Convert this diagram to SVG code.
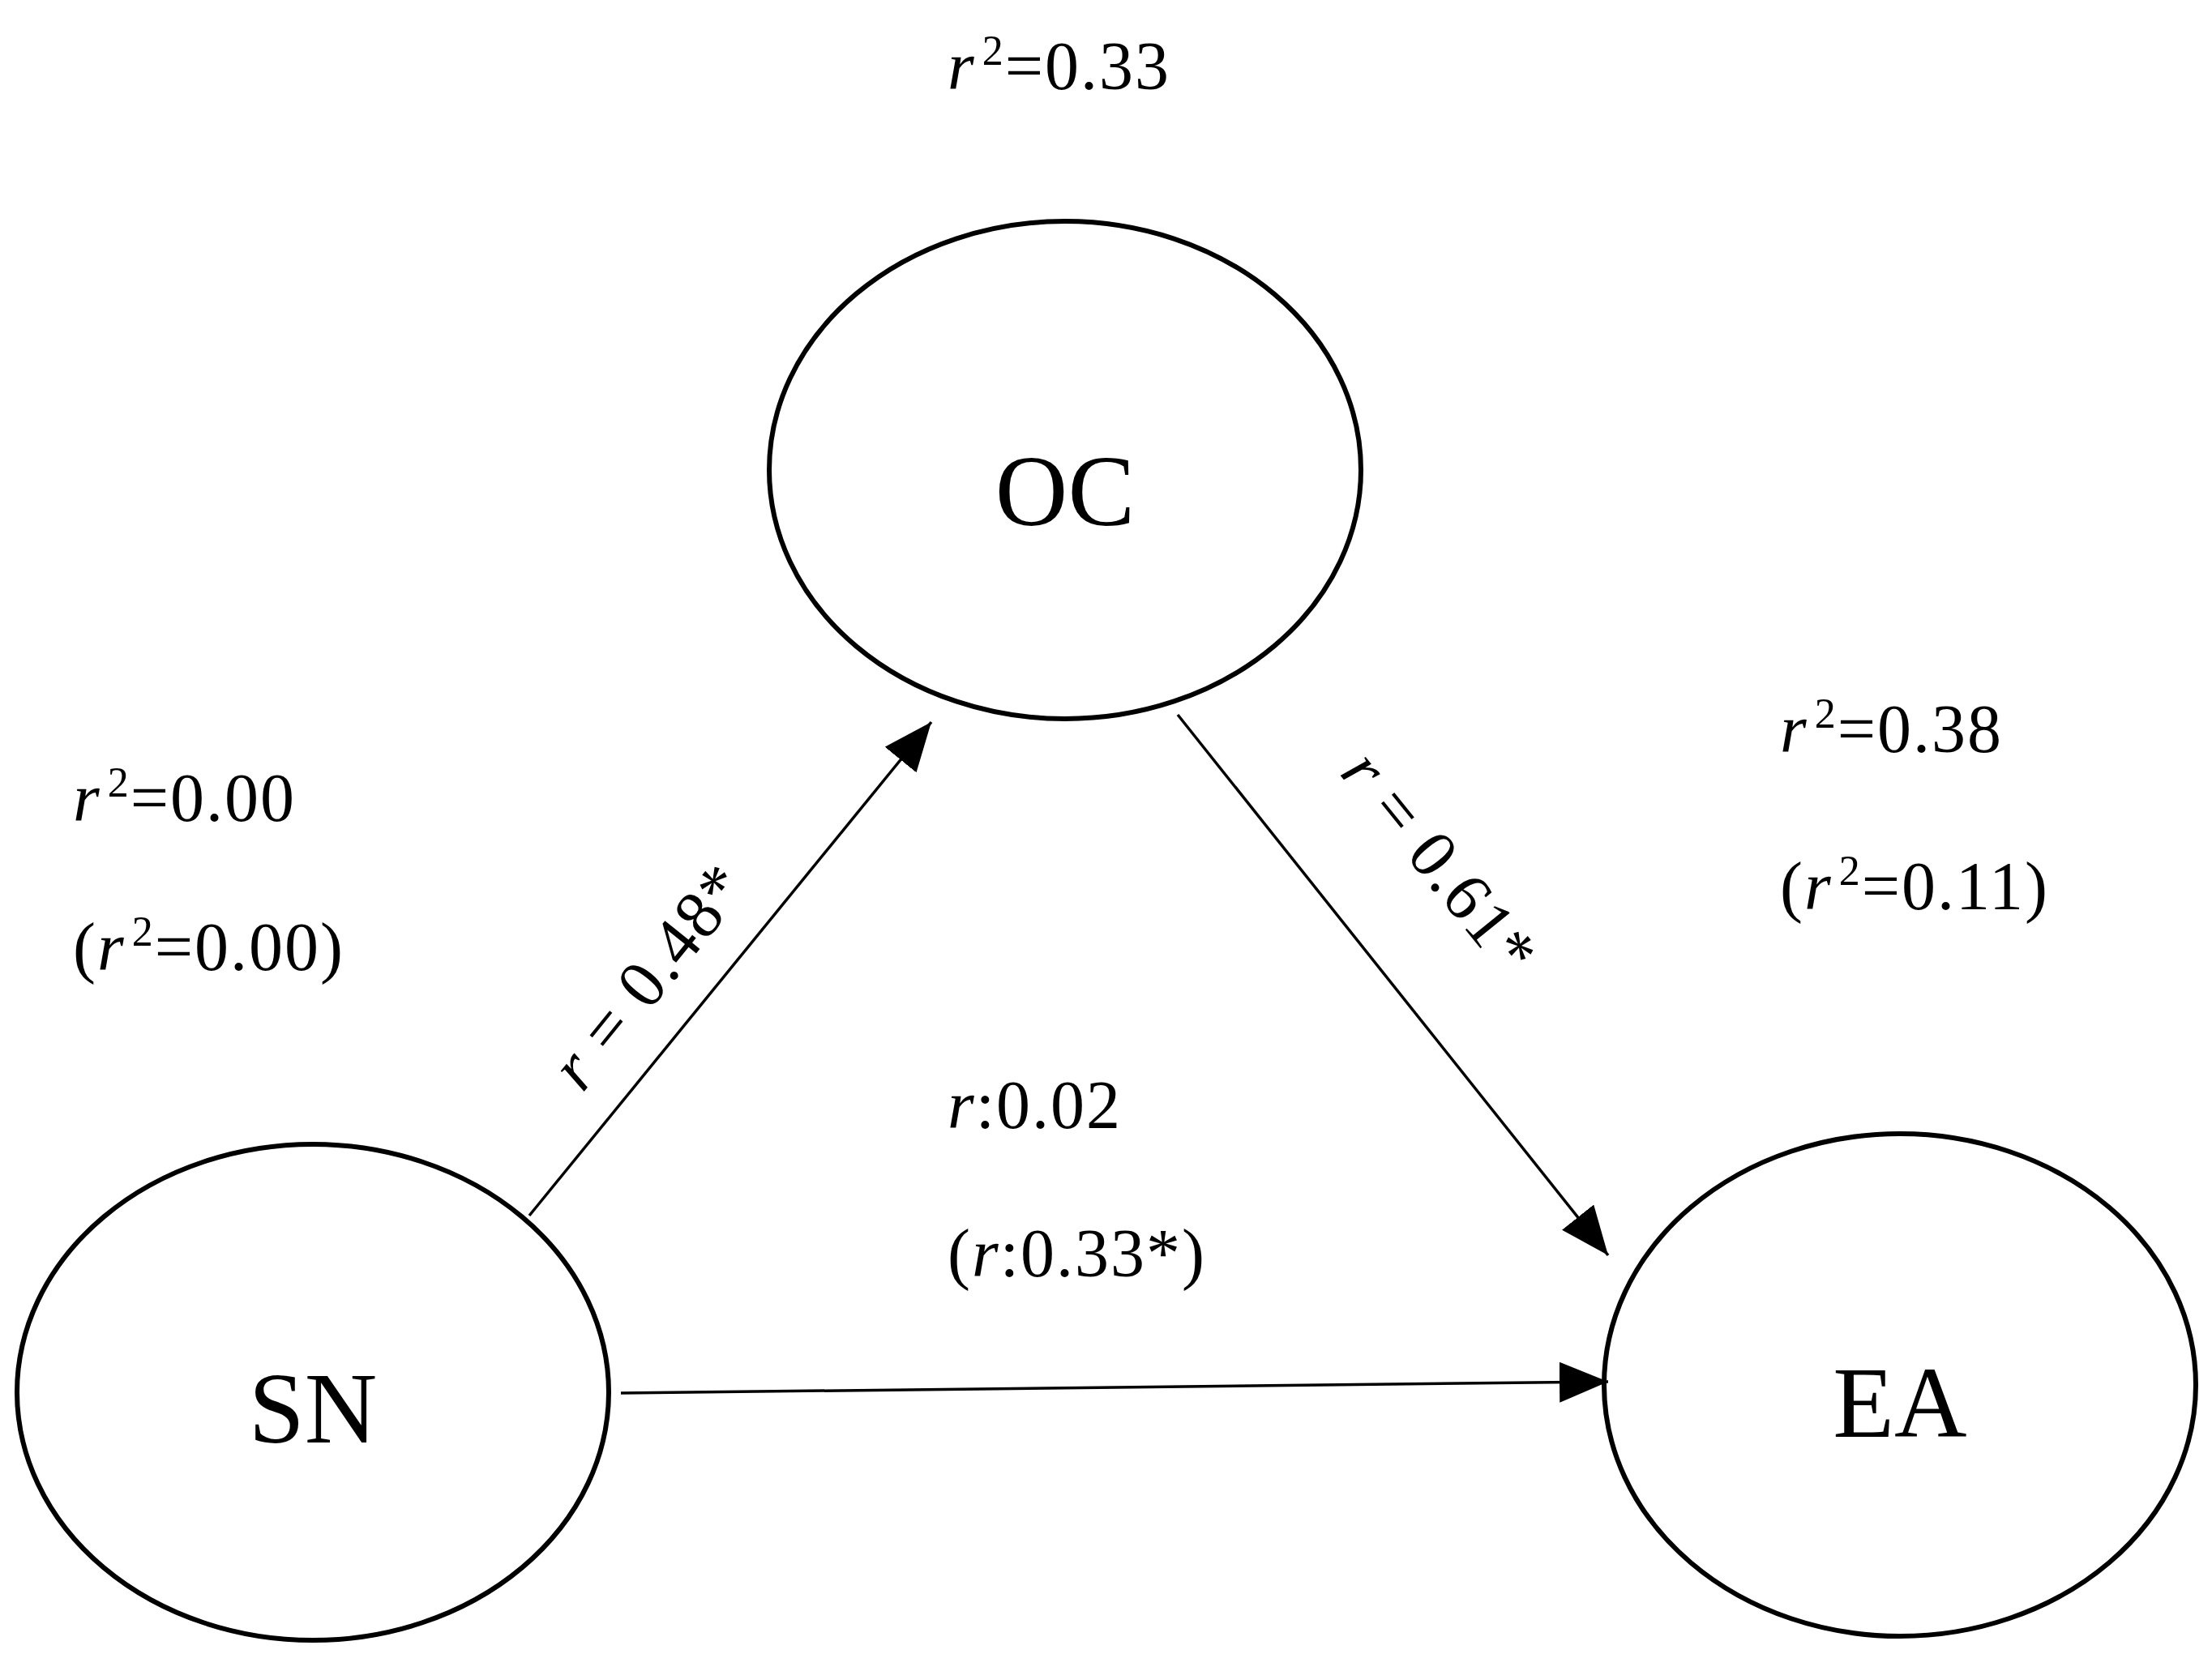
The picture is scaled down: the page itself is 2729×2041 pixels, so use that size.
<svg xmlns="http://www.w3.org/2000/svg" width="2729" height="2041" viewBox="0 0 2729 2041">
<style>
.n{fill:#fff;stroke:#000;stroke-width:6}
.t{font-family:"Liberation Serif",serif;fill:#000}
.l{font-size:84px;letter-spacing:2px}
.b{font-size:124px}
.c line{stroke:#000;stroke-width:3.5}
</style>
<defs><marker id="h" viewBox="0 0 60 50" refX="60" refY="25" markerWidth="60" markerHeight="50" orient="auto" markerUnits="userSpaceOnUse"><path d="M0,0L60,25L0,50z"/></marker></defs>
<rect width="2729" height="2041" fill="#fff"/>
<g id="OC"><ellipse class="n" cx="1314" cy="580" rx="365" ry="307"/><text class="t b" x="1314" y="648" text-anchor="middle">OC</text></g>
<g id="SN"><ellipse class="n" cx="386" cy="1718" rx="365" ry="306"/><text class="t b" x="386" y="1780" text-anchor="middle">SN</text></g>
<g id="EA"><ellipse class="n" cx="2344" cy="1709" rx="365" ry="310"/><text class="t b" x="2344" y="1773" text-anchor="middle">EA</text></g>
<g class="c">
<line x1="653" y1="1500" x2="1149" y2="891" marker-end="url(#h)"/>
<line x1="1453" y1="882" x2="1984" y2="1549" marker-end="url(#h)"/>
<line x1="766" y1="1719" x2="1984" y2="1705" marker-end="url(#h)"/>
</g>
<g class="t l">
<text x="1169" y="110"><tspan font-style="italic">r</tspan><tspan font-size="52" dx="8" dy="-30">2</tspan><tspan dy="30">=0.33</tspan></text>
<text x="90" y="1013"><tspan font-style="italic">r</tspan><tspan font-size="52" dx="8" dy="-30">2</tspan><tspan dy="30">=0.00</tspan></text>
<text x="90" y="1197">(<tspan font-style="italic">r</tspan><tspan font-size="52" dx="8" dy="-30">2</tspan><tspan dy="30">=0.00)</tspan></text>
<text x="2196" y="928"><tspan font-style="italic">r</tspan><tspan font-size="52" dx="8" dy="-30">2</tspan><tspan dy="30">=0.38</tspan></text>
<text x="2196" y="1122">(<tspan font-style="italic">r</tspan><tspan font-size="52" dx="8" dy="-30">2</tspan><tspan dy="30">=0.11)</tspan></text>
<text x="1169" y="1392"><tspan font-style="italic">r</tspan>:0.02</text>
<text x="1169" y="1575">(<tspan font-style="italic">r</tspan>:0.33*)</text>
<text x="0" y="0" text-anchor="middle" transform="translate(822,1222) rotate(-51)"><tspan font-style="italic">r</tspan> = 0.48*</text>
<text x="0" y="0" text-anchor="middle" transform="translate(1755,1082) rotate(51)"><tspan font-style="italic">r</tspan> = 0.61*</text>
</g>
</svg>
